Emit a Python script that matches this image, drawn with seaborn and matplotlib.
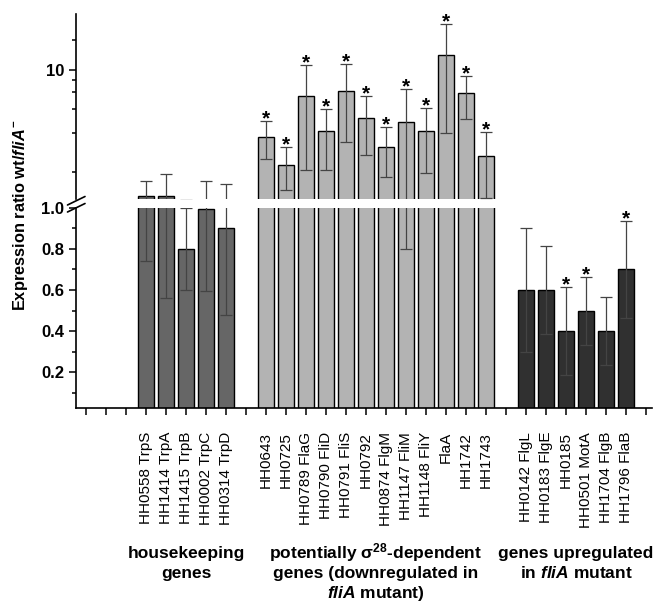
import numpy as np
import pandas as pd
import matplotlib
matplotlib.use("Agg")
import matplotlib.pyplot as plt
from matplotlib.lines import Line2D
import seaborn as sns

# housekeeping genes
hk_genes = ["HH0558 TrpS", "HH1414 TrpA", "HH1415 TrpB", "HH0002 TrpC", "HH0314 TrpD"]
hk_ratio = [1.07, 1.07, 0.80, 0.995, 0.90]
hk_sd = [0.33, 0.51, 0.198, 0.40, 0.42]
hk_star = [False, False, False, False, False]

# potentially sigma28-dependent genes
sig_genes = ["HH0643", "HH0725", "HH0789 FlaG", "HH0790 FliD", "HH0791 FliS", "HH0792",
             "HH0874 FlgM", "HH1147 FliM", "HH1148 FliY", "FlaA", "HH1742", "HH1743"]
sig_ratio = [3.05, 1.86, 6.3, 3.36, 6.92, 4.26, 2.56, 3.97, 3.36, 13.0, 6.61, 2.17]
sig_sd = [0.98, 0.68, 4.6, 1.68, 4.15, 2.07, 1.08, 3.17, 1.77, 9.75, 2.45, 1.15]
sig_star = [True] * 12

# genes upregulated in fliA mutant
up_genes = ["HH0142 FlgL", "HH0183 FlgE", "HH0185", "HH0501 MotA", "HH1704 FlgB", "HH1796 FlaB"]
up_ratio = [0.6, 0.6, 0.4, 0.5, 0.4, 0.7]
up_sd = [0.30, 0.215, 0.215, 0.165, 0.165, 0.235]
up_star = [False, False, True, True, False, True]

group_lines = [
    ["housekeeping", "genes"],
    ["potentially σ$^{28}$-dependent", "genes (downregulated in", "$\\mathit{fliA}$ mutant)"],
    ["genes upregulated", "in $\\mathit{fliA}$ mutant"],
]

sns.set_style("ticks")
plt.rcParams["font.family"] = ["Liberation Sans", "DejaVu Sans"]
plt.rcParams["mathtext.fontset"] = "custom"
plt.rcParams["mathtext.rm"] = "Liberation Sans:bold"
plt.rcParams["mathtext.it"] = "Liberation Sans:italic:bold"
plt.rcParams["mathtext.bf"] = "Liberation Sans:bold"
for key in ["text.color", "axes.labelcolor", "xtick.color", "ytick.color", "axes.edgecolor"]:
    plt.rcParams[key] = "black"

rows = []
for name, genes, ratio, sd, star, start in [("hk", hk_genes, hk_ratio, hk_sd, hk_star, 4),
                                            ("sig", sig_genes, sig_ratio, sig_sd, sig_star, 10),
                                            ("up", up_genes, up_ratio, up_sd, up_star, 23)]:
    for i in range(len(genes)):
        rows.append(dict(gene=genes[i], group=name, pos=start + i,
                         ratio=ratio[i], sd=sd[i], star=star[i]))
df = pd.DataFrame(rows)
pal = {"hk": "#666666", "sig": "#b3b3b3", "up": "#303030"}

W, H = 658, 604
fig = plt.figure(figsize=(W / 100, H / 100), dpi=100)


def box(x0, y0, x1, y1):
    return [x0 / W, 1 - y1 / H, (x1 - x0) / W, (y1 - y0) / H]


ax_top = fig.add_axes(box(76, 14, 652, 199.5))
ax_bot = fig.add_axes(box(76, 207.7, 652, 408.3))

for ax in (ax_top, ax_bot):
    sns.barplot(data=df, x="pos", y="ratio", hue="group", palette=pal, native_scale=True,
                width=0.8, edgecolor="black", linewidth=1, saturation=1,
                errorbar=None, legend=False, ax=ax)
    ax.errorbar(df["pos"], df["ratio"], yerr=df["sd"], fmt="none", ecolor="#444444",
                elinewidth=0.9, capsize=4.5, capthick=0.9)
    ax.set_xlim(0.5, 29.3)
    ax.set_xlabel("")
    ax.set_ylabel("")
    for s in ["top", "right"]:
        ax.spines[s].set_visible(False)
    ax.spines["left"].set_linewidth(1.2)
    ax.spines["bottom"].set_linewidth(1.2)
    ax.tick_params(axis="y", which="major", length=5, width=1.1, pad=3.5, labelsize=12)
    ax.tick_params(axis="y", which="minor", length=3, width=1.1)

# upper panel: log scale above the break
ax_top.set_yscale("log")
ax_top.set_ylim(1, 27.1)
ax_top.spines["bottom"].set_visible(False)
ax_top.set_xticks([])
ax_top.set_yticks([10], ["10"])
ax_top.set_yticks([1.62, 3.28, 5.0, 6.82, 8.37, 17.1], minor=True)
ax_top.yaxis.set_minor_formatter(plt.NullFormatter())

# lower panel: linear scale below the break
ax_bot.set_ylim(0.025, 1.0)
ax_bot.set_yticks([0.2, 0.4, 0.6, 0.8, 1.0], ["0.2", "0.4", "0.6", "0.8", "1.0"])
ax_bot.set_yticks([0.1, 0.3, 0.5, 0.7, 0.9], minor=True)
ticks = list(range(1, 30))
labels = ["" for _ in ticks]
for p, g in zip(df["pos"], df["gene"]):
    labels[p - 1] = g
ax_bot.set_xticks(ticks, labels, rotation=90, fontsize=11)
ax_bot.tick_params(axis="x", length=5, width=1.1, pad=12)

for ax in (ax_top, ax_bot):
    for t in ax.get_yticklabels():
        t.set_fontweight("bold")

# significance stars
for _, r in df[df["star"]].iterrows():
    y = r["ratio"] + r["sd"]
    ax = ax_top if y > 1 else ax_bot
    ax.annotate("*", (r["pos"], y), xytext=(0, -2.5), textcoords="offset points",
                ha="center", va="baseline", fontsize=15, fontweight="bold")

# break marks on the y axis
for yy in (205, 212):
    fig.add_artist(Line2D([67.5 / W, 85 / W], [1 - yy / H, 1 - (yy - 8.5) / H],
                          transform=fig.transFigure, color="black", lw=1.2))

fig.text(21 / W, 1 - 215 / H, "Expression ratio wt/$\\mathit{fliA}^{-}$", rotation=90,
         ha="center", va="center", fontsize=11.8, fontweight="bold")

for cx, lines in zip([186, 376, 576], group_lines):
    for k, line in enumerate(lines):
        fig.text(cx / W, 1 - (558 + 20 * k) / H, line, ha="center", va="baseline",
                 fontsize=12.5, fontweight="bold")

fig.savefig("out.png", dpi=100)
